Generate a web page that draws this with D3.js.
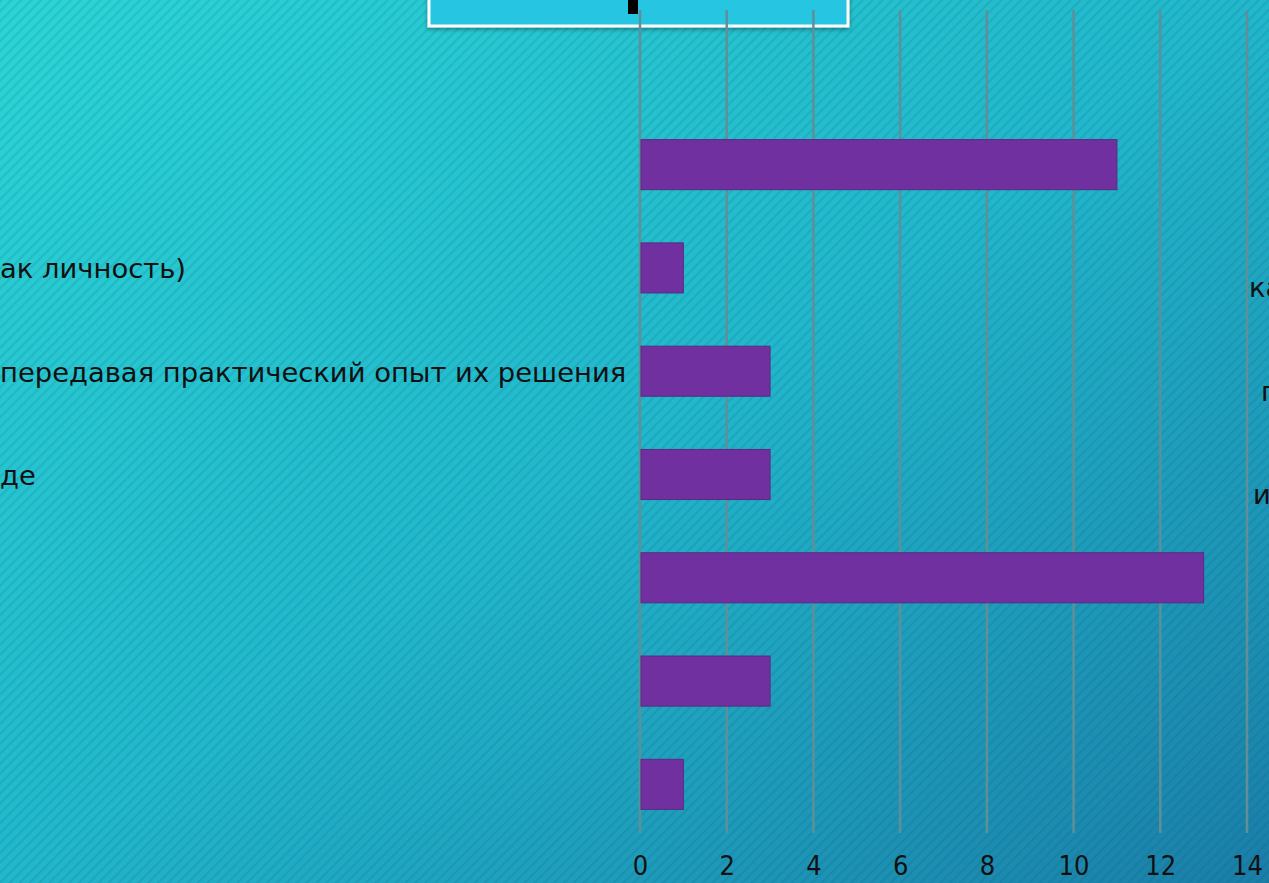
<!DOCTYPE html>
<html><head><meta charset="utf-8">
<script src="https://cdn.jsdelivr.net/npm/d3@7"></script>
<style>html,body{margin:0;padding:0;overflow:hidden;background:#1fa9c4}</style>
</head><body>
<script>
const categories = ["c1","c2","c3","c4","c5","c6","c7"];
const values = [11, 1, 3, 3, 13, 3, 1];
const labels = ["", "ак личность)", "передавая практический опыт их решения", "де", "", "", ""];
const ticks = [0, 2, 4, 6, 8, 10, 12, 14];
const sideFragments = ["ка", "п", "ид"];

const W = 1269, H = 883;
const svg = d3.select("body").append("svg").attr("width", W).attr("height", H);
const defs = svg.append("defs");
const grad = defs.append("linearGradient").attr("id","bg").attr("x1","0").attr("y1","0").attr("x2","1").attr("y2","1");
grad.append("stop").attr("offset","0%").attr("stop-color","#2bd5d6");
grad.append("stop").attr("offset","50%").attr("stop-color","#21b7cc");
grad.append("stop").attr("offset","100%").attr("stop-color","#1a7ea8");
const pat = defs.append("pattern").attr("id","stripes").attr("width",7).attr("height",7)
  .attr("patternUnits","userSpaceOnUse").attr("patternTransform","rotate(45)");
pat.append("rect").attr("width",2.2).attr("height",7).attr("fill","#0a4a60").attr("opacity",0.13);
const sh = defs.append("filter").attr("id","shadow").attr("x","-10%").attr("y","-50%").attr("width","120%").attr("height","200%");
sh.append("feDropShadow").attr("dx",0).attr("dy",2).attr("stdDeviation",2).attr("flood-color","#000").attr("flood-opacity",0.35);

svg.append("rect").attr("width",W).attr("height",H).attr("fill","url(#bg)");
svg.append("rect").attr("width",W).attr("height",H).attr("fill","url(#stripes)");

// title box (cut off at top)
svg.append("rect").attr("x",429).attr("y",-20).attr("width",419).attr("height",46)
  .attr("fill","#27c6e2").attr("stroke","#ffffff").attr("stroke-width",3).attr("filter","url(#shadow)");
svg.append("rect").attr("x",628).attr("y",-5).attr("width",10).attr("height",19).attr("fill","#000");

const x = d3.scaleLinear().domain([0,14]).range([640,1247]);
const y = d3.scaleBand().domain(categories).range([113,836]).paddingInner(0.515).paddingOuter(0.2575);

const font = "'DejaVu Sans',sans-serif";
const fontC = "'DejaVu Sans Condensed','DejaVu Sans',sans-serif";

// gridlines
svg.append("g").selectAll("line").data(ticks).join("line")
  .attr("x1", d=>x(d)).attr("x2", d=>x(d)).attr("y1",10).attr("y2",833)
  .attr("stroke","#5f8f98").attr("stroke-width",2.5);

// bars
svg.append("g").selectAll("rect").data(values).join("rect")
  .attr("x", x(0)+1).attr("y",(d,i)=>y(categories[i]))
  .attr("width", d=>x(d)-x(0)-1).attr("height", y.bandwidth())
  .attr("fill","#7030a0").attr("stroke","#5a2a80").attr("stroke-width",1);

// x axis labels
const axis = d3.axisBottom(x).tickValues(ticks).tickSize(0).tickPadding(0).tickFormat(d3.format("d"));
const ax = svg.append("g").attr("transform","translate(0,856)").call(axis);
ax.select(".domain").remove();
ax.selectAll("text").attr("font-family",fontC).attr("font-size",27).attr("fill","#111").attr("dy","0.71em");

// category labels (left, clipped)
svg.append("g").selectAll("text").data(labels).join("text")
  .attr("x", 0).attr("y",(d,i)=>y(categories[i])+y.bandwidth()/2+3)
  .attr("dominant-baseline","middle")
  .attr("font-family",font).attr("font-size",27.4).attr("fill","#111")
  .text(d=>d);

// fragments on right edge
svg.append("g").selectAll("text").data(sideFragments).join("text")
  .attr("x",(d,i)=>[1249,1261,1253][i]).attr("y",(d,i)=>y(categories[1])+47+i*y.step())
  .attr("dominant-baseline","middle")
  .attr("font-family",font).attr("font-size",27.4).attr("fill","#111")
  .text(d=>d);
</script>
</body></html>
